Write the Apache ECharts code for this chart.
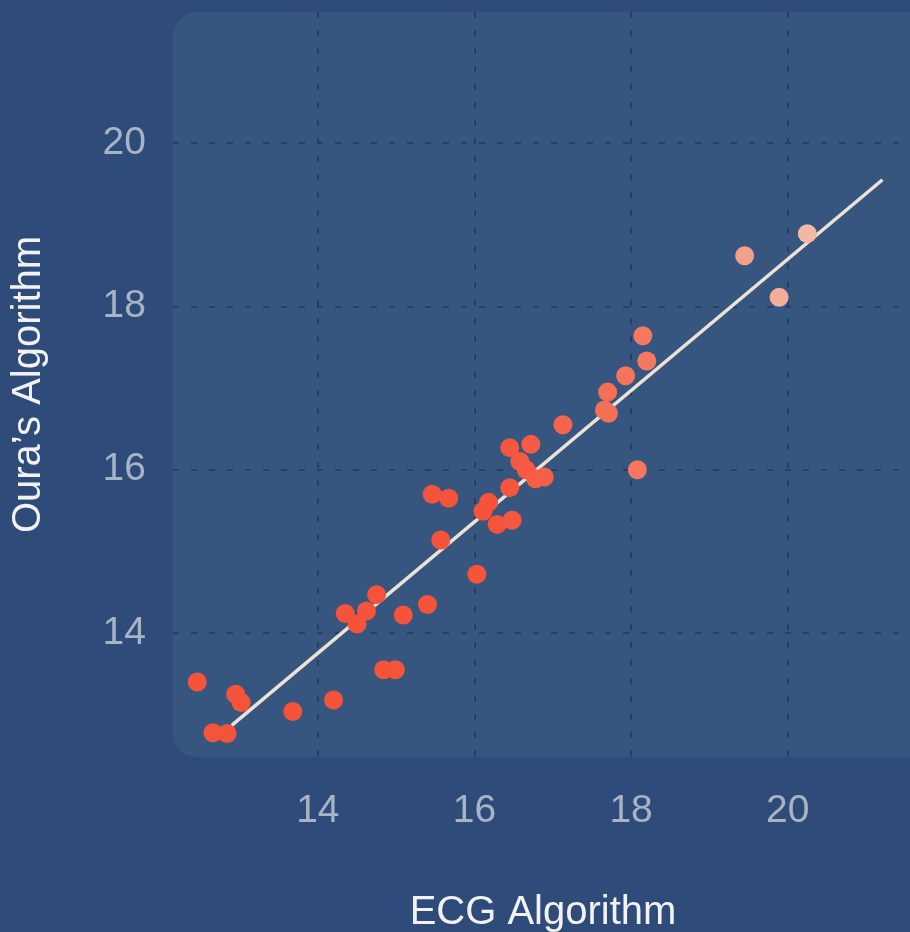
<!DOCTYPE html>
<html>
<head>
<meta charset="utf-8">
<script src="https://cdn.jsdelivr.net/npm/echarts@6/dist/echarts.min.js"></script>
<style>
html,body{margin:0;padding:0;background:#2e4b79;}
#chart{width:910px;height:932px;}
</style>
</head>
<body>
<div id="chart"></div>
<script>
// ECG Algorithm (x) vs Oura's Algorithm (y)
const ecgValues = [12.46,12.66,12.84,12.95,13.02,13.68,14.20,14.35,14.50,14.62,14.75,14.84,14.99,15.09,15.40,15.46,15.67,15.57,16.03,16.18,16.11,16.29,16.48,16.45,16.45,16.72,16.58,16.66,16.78,16.89,17.13,17.66,17.71,17.70,17.93,18.20,18.15,18.08,19.45,20.25,19.89];
const ouraValues = [13.40,12.78,12.77,13.25,13.15,13.04,13.18,14.24,14.11,14.27,14.47,13.55,13.55,14.22,14.35,15.70,15.65,15.14,14.72,15.60,15.49,15.33,15.38,15.78,16.27,16.31,16.10,16.00,15.89,15.91,16.55,16.73,16.69,16.95,17.15,17.33,17.64,16.00,18.62,18.89,18.11];
const fitLineX = [12.90, 21.21];
const fitLineY = [12.87, 19.55];
const xTicks = [14, 16, 18, 20];
const yTicks = [14, 16, 18, 20];
const xRange = [12.15, 21.6];
const yRange = [12.482, 21.604];

const points = ecgValues.map((v, i) => [v, ouraValues[i]]);
const fitLine = fitLineX.map((v, i) => [v, fitLineY[i]]);

const FONT = 'Liberation Sans';
const chart = echarts.init(document.getElementById('chart'));
const grid = {left: 173, top: 12, width: 740, height: 745, containLabel: false, outerBoundsMode: 'none'};
chart.setOption({
  backgroundColor: '#2e4b79',
  animation: false,
  graphic: [{
    type: 'rect',
    z: -10,
    shape: {x: grid.left, y: grid.top, width: grid.width + 30, height: grid.height, r: 24},
    style: {fill: '#36567f'}
  }],
  grid: grid,
  xAxis: {
    type: 'value',
    min: xRange[0], max: xRange[1],
    name: 'ECG Algorithm',
    nameLocation: 'middle',
    nameGap: 136,
    nameTextStyle: {color: '#f2f2f2', fontSize: 40, fontFamily: FONT},
    axisLine: {show: false},
    axisTick: {show: false, customValues: xTicks},
    axisLabel: {customValues: xTicks, color: '#a8b4c6', fontSize: 39, fontFamily: FONT, margin: 35},
    splitLine: {show: true, lineStyle: {color: '#253f68', width: 2, type: [6, 12]}}
  },
  yAxis: {
    type: 'value',
    min: yRange[0], max: yRange[1],
    name: 'Oura\u2019s Algorithm',
    nameLocation: 'middle',
    nameGap: 124,
    nameTextStyle: {color: '#f2f2f2', fontSize: 40, fontFamily: FONT},
    axisLine: {show: false},
    axisTick: {show: false, customValues: yTicks},
    axisLabel: {customValues: yTicks, color: '#a8b4c6', fontSize: 39, fontFamily: FONT, margin: 27},
    splitLine: {show: true, lineStyle: {color: '#253f68', width: 2, type: [6, 12]}}
  },
  visualMap: {
    show: false,
    type: 'continuous',
    seriesIndex: 1,
    dimension: 0,
    min: 16.3, max: 20.3,
    inRange: {color: ['#f6533b', '#f57b63', '#f1bba7']}
  },
  series: [{
    type: 'line',
    data: fitLine,
    showSymbol: false,
    symbol: 'none',
    z: 2,
    lineStyle: {color: '#eee2d7', width: 3.5}
  }, {
    type: 'scatter',
    data: points,
    symbolSize: 19,
    z: 3,
    itemStyle: {opacity: 1}
  }]
});
</script>
</body>
</html>
